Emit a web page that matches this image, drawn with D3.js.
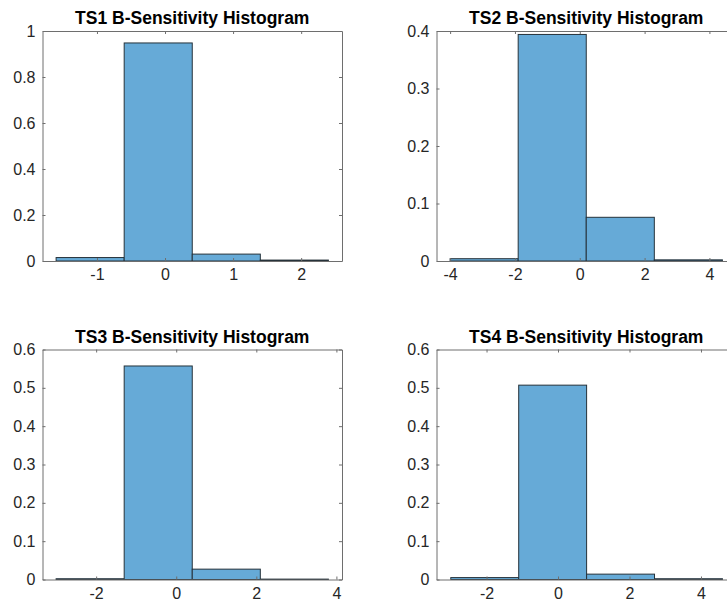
<!DOCTYPE html>
<html>
<head>
<meta charset="utf-8">
<script src="https://cdn.jsdelivr.net/npm/d3@7"></script>
<style>
  html, body { margin: 0; padding: 0; background: #ffffff; overflow: hidden; }
  svg { display: block; }
  .tick text { font-family: "Liberation Sans", Arial, Helvetica, sans-serif; }
</style>
</head>
<body>
<svg id="chart" width="727" height="605"></svg>
<script>
// Panel titles
const titles = [
  "TS1 B-Sensitivity Histogram",
  "TS2 B-Sensitivity Histogram",
  "TS3 B-Sensitivity Histogram",
  "TS4 B-Sensitivity Histogram"
];

// Bin edges for each histogram
const edgesTS1 = [-1.6, -0.6, 0.4, 1.4, 2.4];
const edgesTS2 = [-4.0, -1.9, 0.2, 2.3, 4.4];
const edgesTS3 = [-3.0, -1.3, 0.4, 2.1, 3.8];
const edgesTS4 = [-3.0, -1.1, 0.8, 2.7, 4.6];

// Normalised bin heights (probability)
const probTS1 = [0.015, 0.948, 0.030, 0.004];
const probTS2 = [0.004, 0.394, 0.076, 0.002];
const probTS3 = [0.002, 0.557, 0.027, 0.001];
const probTS4 = [0.005, 0.507, 0.014, 0.002];

// Axis limits
const xLimTS1 = [-1.8, 2.6];
const xLimTS2 = [-4.42, 4.82];
const xLimTS3 = [-3.34, 4.14];
const xLimTS4 = [-3.40, 4.98];
const yLimTS1 = [0, 1];
const yLimTS2 = [0, 0.4];
const yLimTS3 = [0, 0.6];
const yLimTS4 = [0, 0.6];

// Tick values
const xTicksTS1 = [-1, 0, 1, 2];
const xTicksTS2 = [-4, -2, 0, 2, 4];
const xTicksTS3 = [-2, 0, 2, 4];
const xTicksTS4 = [-2, 0, 2, 4];
const yTicksTS1 = [0, 0.2, 0.4, 0.6, 0.8, 1];
const yTicksTS2 = [0, 0.1, 0.2, 0.3, 0.4];
const yTicksTS3 = [0, 0.1, 0.2, 0.3, 0.4, 0.5, 0.6];
const yTicksTS4 = [0, 0.1, 0.2, 0.3, 0.4, 0.5, 0.6];

const panels = [
  { title: titles[0], edges: edgesTS1, prob: probTS1, xLim: xLimTS1, yLim: yLimTS1, xTicks: xTicksTS1, yTicks: yTicksTS1 },
  { title: titles[1], edges: edgesTS2, prob: probTS2, xLim: xLimTS2, yLim: yLimTS2, xTicks: xTicksTS2, yTicks: yTicksTS2 },
  { title: titles[2], edges: edgesTS3, prob: probTS3, xLim: xLimTS3, yLim: yLimTS3, xTicks: xTicksTS3, yTicks: yTicksTS3 },
  { title: titles[3], edges: edgesTS4, prob: probTS4, xLim: xLimTS4, yLim: yLimTS4, xTicks: xTicksTS4, yTicks: yTicksTS4 }
];

// Subplot grid geometry
const colX = [42.5, 436.5];
const rowY = [31, 349.5];
const W = 299.5, H = 230;

const FONT = '"Liberation Sans", Arial, Helvetica, sans-serif';
const TEXT = "#262626";
const AXIS = "#6e6e6e";
const FILL = "#66aad7";
const EDGE = "#26323a";

const svg = d3.select("#chart");

// Plain hyphen-minus labels
const fmt = d => String(d);

panels.forEach((p, i) => {
  const g = svg.append("g")
    .attr("transform", `translate(${colX[i % 2]},${rowY[Math.floor(i / 2)]})`);

  const x = d3.scaleLinear().domain(p.xLim).range([0, W]);
  const y = d3.scaleLinear().domain(p.yLim).range([H, 0]);

  const bins = p.prob.map((v, k) => ({ x0: p.edges[k], x1: p.edges[k + 1], v }));

  // Histogram bars
  g.selectAll("rect.bar")
    .data(bins)
    .join("rect")
    .attr("class", "bar")
    .attr("x", d => x(d.x0))
    .attr("y", d => y(d.v))
    .attr("width", d => x(d.x1) - x(d.x0))
    .attr("height", d => y(0) - y(d.v))
    .attr("fill", FILL)
    .attr("stroke", EDGE)
    .attr("stroke-width", 1);

  // Bottom axis with labels, ticks pointing inward
  const bottom = g.append("g").attr("transform", `translate(0,${H})`)
    .call(d3.axisBottom(x).tickValues(p.xTicks).tickFormat(fmt)
      .tickSizeInner(-3).tickSizeOuter(0).tickPadding(8));
  // Top axis, ticks only
  const top = g.append("g")
    .call(d3.axisTop(x).tickValues(p.xTicks).tickFormat("")
      .tickSizeInner(-3).tickSizeOuter(0));
  // Left axis with labels
  const left = g.append("g")
    .call(d3.axisLeft(y).tickValues(p.yTicks).tickFormat(fmt)
      .tickSizeInner(-3).tickSizeOuter(0).tickPadding(7));
  // Right axis, ticks only
  const right = g.append("g").attr("transform", `translate(${W},0)`)
    .call(d3.axisRight(y).tickValues(p.yTicks).tickFormat("")
      .tickSizeInner(-3).tickSizeOuter(0));

  [bottom, top, left, right].forEach(a => {
    a.select(".domain").attr("stroke", AXIS).attr("stroke-width", 1);
    a.selectAll(".tick line").attr("stroke", AXIS).attr("stroke-width", 1);
    a.selectAll(".tick text")
      .attr("fill", TEXT)
      .style("font-family", FONT)
      .style("font-size", "16px");
  });

  // Panel title
  g.append("text")
    .attr("x", W / 2)
    .attr("y", -7)
    .attr("text-anchor", "middle")
    .attr("fill", "#000000")
    .style("font-family", FONT)
    .style("font-weight", "bold")
    .style("font-size", "17.5px")
    .text(p.title);
});
</script>
</body>
</html>
